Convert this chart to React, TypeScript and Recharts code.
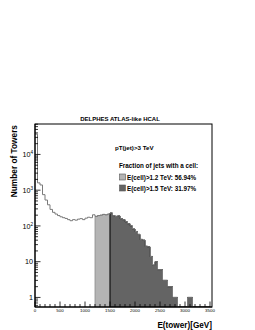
import React from 'react';
import { ComposedChart, Area, Line, XAxis, YAxis } from 'recharts';

// ---- data ----
const BIN_WIDTH = 50; // GeV
// tower counts for bins starting at 0, 50, 100, ... 3450 GeV
const counts = [
  37000, 1600, 1400, 750, 530, 390, 290, 240, 215, 195,
  180, 170, 162, 150, 140, 150, 145, 155, 160, 150,
  165, 175, 170, 205, 185, 195, 200, 210, 205, 215,
  230, 195, 185, 190, 160, 150, 130, 115, 100, 82,
  70, 58, 42, 40, 27, 26, 14, 8, 10, 6,
  6, 3, 3, 2, 2, 1, 1, 0, 0, 0,
  0, 1, 1, 0, 0, 0, 0, 0, 0, 0,
];
const LIGHT_FROM = 1200; // E(cell) > 1.2 TeV
const DARK_FROM = 1500; // E(cell) > 1.5 TeV
const xTickValues = Array.from({ length: 36 }, (_, i) => i * 100);
const xMajorStep = 500;
const yDecades = [-1, 0, 1, 2, 3, 4];
const Y_MIN = 0.54;
const Y_MAX = 71000;
const X_MAX = 3540;

const title = 'DELPHES ATLAS-like HCAL';
const cutText = 'pT(jet)>3 TeV';
const legendHeader = 'Fraction of jets with a cell:';
const legendItems = [
  { label: 'E(cell)>1.2 TeV: 56.94%', color: '#b4b4b4' },
  { label: 'E(cell)>1.5 TeV: 31.97%', color: '#646464' },
];
const xTitle = 'E(tower)[GeV]';
const yTitle = 'Number of Towers';

// ---- derived table ----
const clip = (c: number) => (c > 0 ? c : Y_MIN);
type Row = { x: number; all: number | null; light: number | null; dark: number | null };
const rows: Row[] = [];
counts.forEach((c, i) => {
  const x = i * BIN_WIDTH;
  const v = clip(c);
  const prev = i > 0 ? clip(counts[i - 1]) : Y_MIN;
  if (x === LIGHT_FROM) rows.push({ x, all: prev, light: Y_MIN, dark: null });
  if (x === DARK_FROM) rows.push({ x, all: prev, light: Y_MIN, dark: Y_MIN });
  rows.push({
    x,
    all: v,
    light: x >= LIGHT_FROM && x < DARK_FROM ? v : null,
    dark: x >= DARK_FROM ? v : null,
  });
});
const lastV = clip(counts[counts.length - 1]);
rows.push({ x: counts.length * BIN_WIDTH, all: lastV, light: null, dark: lastV });

const yTickValues: number[] = [];
yDecades.forEach((d) => {
  for (let m = 1; m <= 9; m++) {
    const v = parseFloat((m * Math.pow(10, d)).toPrecision(6));
    if (v >= Y_MIN && v <= Y_MAX) yTickValues.push(v);
  }
});

const FONT = "'Liberation Sans', Arial, sans-serif";

const isMajorY = (v: number) => {
  const l = Math.log10(v);
  return Math.abs(l - Math.round(l)) < 1e-9;
};

const YTick = (props: any) => {
  const { x, y, payload } = props;
  const v = payload.value as number;
  const major = isMajorY(v);
  const exp = Math.round(Math.log10(v));
  return (
    <g>
      <line x1={x} x2={x + (major ? 5.5 : 3)} y1={y} y2={y} stroke="#000" strokeWidth={0.8} />
      {major && (
        <text x={x - 2} y={y + 2.6} textAnchor="end" fontSize={7.2} fontFamily={FONT} fill="#000">
          {exp === 0 ? '1' : exp === 1 ? '10' : (
            <>
              10<tspan dy={-3} fontSize={4.6}>{exp}</tspan>
            </>
          )}
        </text>
      )}
    </g>
  );
};

const XTick = (props: any) => {
  const { x, y, payload } = props;
  const v = payload.value as number;
  const major = v % xMajorStep === 0;
  return (
    <g>
      <line x1={x} x2={x} y1={y} y2={y - (major ? 5.5 : 3)} stroke="#000" strokeWidth={0.8} />
      {major && (
        <text x={x} y={y + 5} textAnchor="middle" fontSize={4.4} fontFamily={FONT} fill="#000">
          {v}
        </text>
      )}
    </g>
  );
};

export default function App() {
  const W = 255;
  const H = 330;
  const frame = { x: 35, y: 124, w: 177, h: 183 };
  return (
    <div style={{ position: 'absolute', left: 0, top: 0, width: W, height: H, background: '#fff' }}>
      <ComposedChart
        width={W}
        height={H}
        data={rows}
        margin={{ top: 124, right: 43, bottom: 0, left: 0 }}
      >
        <XAxis
          dataKey="x"
          type="number"
          domain={[0, X_MAX]}
          allowDataOverflow
          ticks={xTickValues}
          interval={0}
          tick={<XTick />}
          tickSize={0}
          tickMargin={0}
          tickLine={false}
          height={23}
          axisLine={{ stroke: '#000', strokeWidth: 1 }}
        />
        <YAxis
          type="number"
          scale="log"
          domain={[Y_MIN, Y_MAX]}
          allowDataOverflow
          ticks={yTickValues}
          interval={0}
          tick={<YTick />}
          tickSize={0}
          tickMargin={0}
          tickLine={false}
          width={35}
          axisLine={{ stroke: '#000', strokeWidth: 1 }}
        />
        <Area
          dataKey="light"
          type="stepAfter"
          fill="#b4b4b4"
          fillOpacity={1}
          stroke="#8a8a8a"
          strokeWidth={0.8}
          connectNulls={false}
          isAnimationActive={false}
          dot={false}
          activeDot={false}
        />
        <Line
          dataKey="all"
          type="stepAfter"
          stroke="#7a7a7a"
          strokeWidth={1}
          dot={false}
          activeDot={false}
          isAnimationActive={false}
        />
        <Area
          dataKey="dark"
          type="stepAfter"
          fill="#646464"
          fillOpacity={1}
          stroke="#000"
          strokeWidth={1}
          connectNulls={false}
          isAnimationActive={false}
          dot={false}
          activeDot={false}
        />
      </ComposedChart>
      <svg
        width={W}
        height={H}
        style={{ position: 'absolute', left: 0, top: 0, pointerEvents: 'none' }}
      >
        <rect
          x={frame.x}
          y={frame.y}
          width={frame.w}
          height={frame.h}
          fill="none"
          stroke="#000"
          strokeWidth={1}
        />
        <text x={120} y={121} textAnchor="middle" fontSize={6} fontWeight="bold" fontFamily={FONT} fill="#000">
          {title}
        </text>
        <text x={115} y={150} fontSize={6.2} fontWeight="bold" fontFamily={FONT} fill="#000">
          {cutText}
        </text>
        <text x={119} y={168} fontSize={6.3} fontWeight="bold" fontFamily={FONT} fill="#000">
          {legendHeader}
        </text>
        {legendItems.map((it, i) => (
          <g key={it.label}>
            <rect x={119.5} y={174 + i * 11} width={6} height={6} fill={it.color} stroke="#555" strokeWidth={0.6} />
            <text x={127} y={179.5 + i * 11} fontSize={6.3} fontWeight="bold" fontFamily={FONT} fill="#000">
              {it.label}
            </text>
          </g>
        ))}
        <text x={212} y={328} textAnchor="end" fontSize={8.2} fontWeight="bold" fontFamily={FONT} fill="#000">
          {xTitle}
        </text>
        <text
          x={16.5}
          y={125}
          transform="rotate(-90 16.5 125)"
          textAnchor="end"
          fontSize={8.3}
          fontWeight="bold"
          fontFamily={FONT}
          fill="#000"
        >
          {yTitle}
        </text>
      </svg>
    </div>
  );
}
